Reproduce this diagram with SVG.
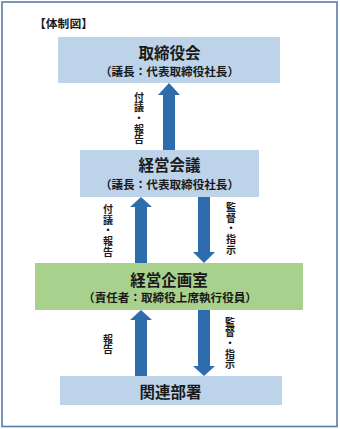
<svg xmlns="http://www.w3.org/2000/svg" width="340" height="429" viewBox="0 0 340 429">
<style>
.t{font-family:"Noto Sans CJK JP","Noto Sans",sans-serif;font-weight:bold;fill:#1a1a1a}
.h{font-size:15.5px;text-anchor:middle}
.s{font-size:11.6px;text-anchor:middle}
.v{font-size:10px;writing-mode:vertical-rl;letter-spacing:0.6px}
.blue{fill:#bdd3ea}
.green{fill:#a9d18e}
.arr{fill:#2e6dad}
</style>
<rect x="2" y="2" width="335" height="424.5" fill="#fff" stroke="#5b7ea5" stroke-width="1.6"/>
<text class="t" x="34" y="28" font-size="11.8">【体制図】</text>
<g id="board">
<rect class="blue" x="58" y="37" width="222" height="46"/>
<text class="t h" x="169.5" y="59">取締役会</text>
<text class="t s" x="169.5" y="76">（議長：代表取締役社長）</text>
</g>
<g id="mgmt">
<rect class="blue" x="80" y="150" width="179" height="47"/>
<text class="t h" x="169.5" y="171">経営会議</text>
<text class="t s" x="169.5" y="189">（議長：代表取締役社長）</text>
</g>
<g id="planning">
<rect class="green" x="35" y="263" width="268" height="47"/>
<text class="t h" x="169" y="285.5">経営企画室</text>
<text class="t s" x="170" y="302">（責任者：取締役上席執行役員）</text>
</g>
<g id="depts">
<rect class="blue" x="60" y="376" width="222" height="29"/>
<text class="t h" x="170.5" y="398">関連部署</text>
</g>
<g id="connectors">
<polygon class="arr" points="163,150 163,95 158,95 169,83 180,95 175,95 175,150"/>
<polygon class="arr" points="135,263 135,207 130,207 141,197 152,207 147,207 147,263"/>
<polygon class="arr" points="198,197 210,197 210,252 215,252 204,263 193,252 198,252"/>
<polygon class="arr" points="135,376 135,320 130,320 141,310 152,320 147,320 147,376"/>
<polygon class="arr" points="198,310 210,310 210,366 215,366 204,376 193,366 198,366"/>
<text class="t v" x="139" y="92">付議・報告</text>
<text class="t v" x="108" y="204.5">付議・報告</text>
<text class="t v" x="231" y="202.5">監督・指示</text>
<text class="t v" x="108" y="334">報告</text>
<text class="t v" x="230" y="317">監督・指示</text>
</g>
</svg>
